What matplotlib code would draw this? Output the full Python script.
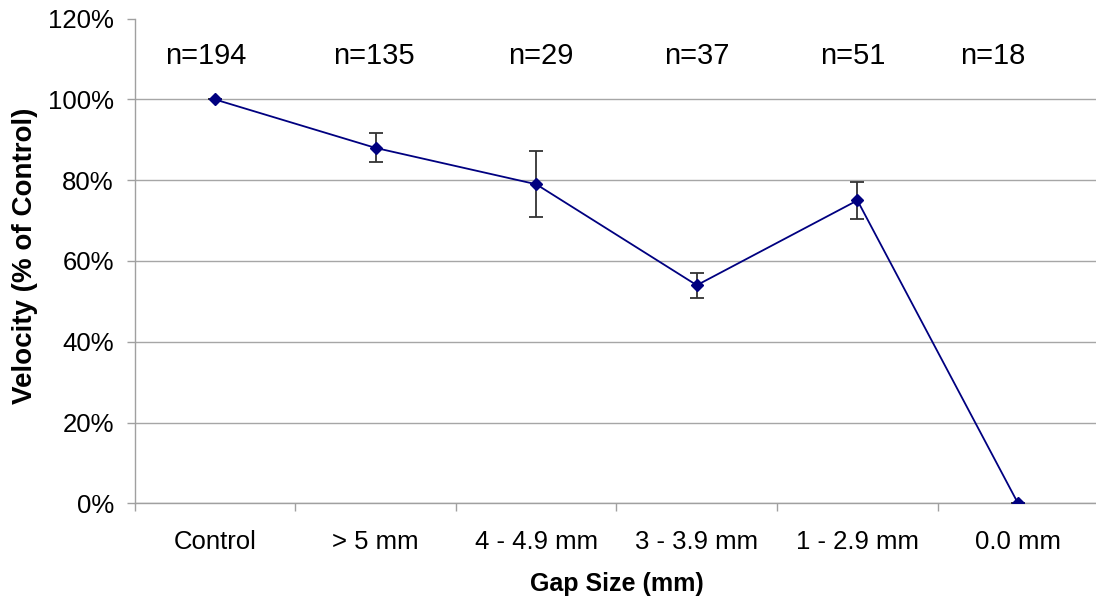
import matplotlib
matplotlib.use("Agg")
import matplotlib.pyplot as plt
from matplotlib.ticker import FixedLocator, PercentFormatter

categories = ["Control", "> 5 mm", "4 - 4.9 mm", "3 - 3.9 mm", "1 - 2.9 mm", "0.0 mm"]
velocity = [100, 88, 79, 54, 75, 0]
error = [0, 3.6, 8.2, 3.1, 4.5, 0]
n_labels = ["n=194", "n=135", "n=29", "n=37", "n=51", "n=18"]
n_offsets = [-0.06, -0.01, 0.03, 0.0, -0.03, -0.16]

plt.rcParams["font.family"] = ["Liberation Sans", "DejaVu Sans"]

fig = plt.figure(figsize=(10.96, 6.01), dpi=100)
ax = fig.add_axes([0.1229, 0.1626, 0.8792, 0.8063])

x = list(range(len(categories)))
ax.errorbar(x, velocity, yerr=error,
            color="#000080", lw=1.3, marker="D", ms=6.5, mfc="#000080", mec="#000080",
            ecolor="#333333", elinewidth=1.3, capsize=5, capthick=1.3, zorder=3)

ax.set_xlim(-0.5, len(categories) - 0.5)
ax.set_ylim(0, 120)
ax.yaxis.set_major_locator(FixedLocator([0, 20, 40, 60, 80, 100, 120]))
ax.yaxis.set_major_formatter(PercentFormatter(decimals=0))

ax.set_xticks(x)
ax.set_xticklabels(categories)
ax.set_xticks([i + 0.5 for i in range(-1, len(categories))], minor=True)
ax.tick_params(axis="x", which="major", length=0, pad=19, labelsize=18.5)
ax.tick_params(axis="x", which="minor", length=6, width=1, color="#a0a0a0", direction="out")
ax.tick_params(axis="y", which="major", length=6, width=1, color="#a0a0a0", pad=9, labelsize=18.5)

ax.yaxis.grid(True, color="#a6a6a6", lw=1)
ax.set_axisbelow(True)
ax.get_ygridlines()[-1].set_visible(False)

for s in ["top", "right"]:
    ax.spines[s].set_visible(False)
for s in ["left", "bottom"]:
    ax.spines[s].set_color("#a0a0a0")
    ax.spines[s].set_linewidth(1)

for i, (lab, off) in enumerate(zip(n_labels, n_offsets)):
    ax.text(i + off, 110.8, lab, ha="center", va="center", fontsize=21, color="black")

ax.set_xlabel("Gap Size (mm)", fontsize=18, fontweight="bold")
ax.xaxis.set_label_coords(0.5, -0.1665)
ax.xaxis.label.set_va("center")
ax.set_ylabel("Velocity (% of Control)", fontsize=20, fontweight="bold")
ax.yaxis.set_label_coords(-0.114, 0.51)
ax.yaxis.label.set_va("center")

fig.savefig("out.png", dpi=100)
